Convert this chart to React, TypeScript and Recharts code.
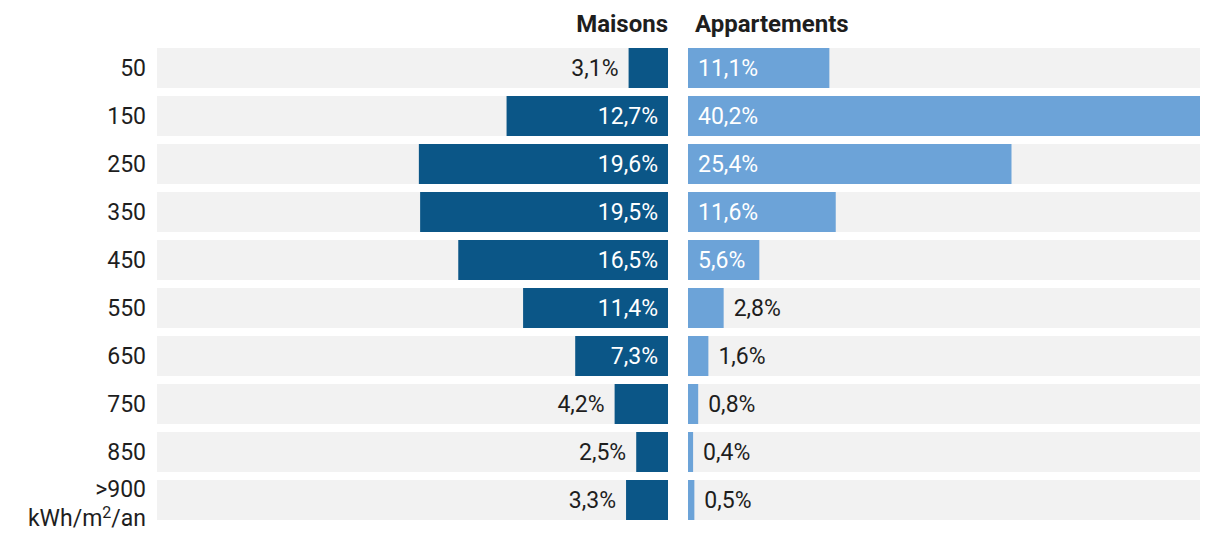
import React from 'react';
import { BarChart, Bar, XAxis, YAxis } from 'recharts';

const categories = ['50', '150', '250', '350', '450', '550', '650', '750', '850', '>900'];
const maisons = [3.1, 12.7, 19.6, 19.5, 16.5, 11.4, 7.3, 4.2, 2.5, 3.3];
const appartements = [11.1, 40.2, 25.4, 11.6, 5.6, 2.8, 1.6, 0.8, 0.4, 0.5];
const UNIT = 'kWh/m';

const rows = categories.map((cat, i) => ({
  cat,
  maisons: maisons[i],
  appartements: appartements[i],
}));

const MAX = Math.max(...maisons, ...appartements);

const DARK = '#0b5687';
const LIGHT = '#6ca3d8';
const TRACK = '#f2f2f2';
const TEXT = '#1e1e1e';
const FONT = 'Roboto, sans-serif';
const FS = 23;

const fmt = (v: number) => `${v.toFixed(1).replace('.', ',')}%`;
// rough Roboto advance widths for the labels
const textWidth = (s: string) =>
  s.split('').reduce((w, c) => w + (c === ',' ? 0.2 : c === '%' ? 0.73 : 0.56), 0) * FS;

const CatTick = (props: any) => {
  const { x, y, payload } = props;
  const v: string = payload.value;
  if (v.startsWith('>')) {
    // two-line label for the last class
    return (
      <g>
        <text x={x} y={y - 3} textAnchor="end" fill={TEXT} fontFamily={FONT} fontSize={FS}>
          {v}
        </text>
        <text x={x} y={y + 26} textAnchor="end" fill={TEXT} fontFamily={FONT} fontSize={FS}>
          {UNIT}
          <tspan dy={-8} fontSize={16}>2</tspan>
          <tspan dy={8}>/an</tspan>
        </text>
      </g>
    );
  }
  return (
    <text x={x} y={y} dy="0.35em" textAnchor="end" fill={TEXT} fontFamily={FONT} fontSize={FS}>
      {v}
    </text>
  );
};

const makeLabel = (side: 'left' | 'right') => (props: any) => {
  const { x, y, width, height, value } = props;
  const left = Math.min(x, x + width);
  const right = Math.max(x, x + width);
  const w = Math.abs(width);
  const s = fmt(value);
  const inside = w > textWidth(s) + 20;
  let tx: number;
  let anchor: 'start' | 'end';
  if (side === 'left') {
    anchor = 'end';
    tx = inside ? right - 10 : left - 10;
  } else {
    anchor = 'start';
    tx = inside ? left + 10 : right + 10;
  }
  return (
    <text
      x={tx}
      y={y + height / 2}
      dy="0.35em"
      textAnchor={anchor}
      fill={inside ? '#ffffff' : TEXT}
      fontFamily={FONT}
      fontSize={FS}
    >
      {s}
    </text>
  );
};

const headerStyle: React.CSSProperties = {
  position: 'absolute',
  top: 8,
  fontFamily: FONT,
  fontWeight: 700,
  fontSize: 24,
  color: TEXT,
  lineHeight: '32px',
};

export default function App() {
  return (
    <div style={{ position: 'absolute', left: 0, top: 0, width: 1220, height: 548, background: '#fff' }}>
      <div style={{ ...headerStyle, right: 1220 - 668, textAlign: 'right' }}>Maisons</div>
      <div style={{ ...headerStyle, left: 695 }}>Appartements</div>

      <div style={{ position: 'absolute', left: 0, top: 0 }}>
        <BarChart
          width={678}
          height={548}
          layout="vertical"
          data={rows}
          margin={{ top: 44, right: 10, bottom: 24, left: 0 }}
        >
          <XAxis type="number" domain={[0, MAX]} reversed hide />
          <YAxis
            type="category"
            dataKey="cat"
            width={157}
            axisLine={false}
            tickLine={false}
            tickSize={0}
            tickMargin={11}
            interval={0}
            tick={<CatTick />}
          />
          <Bar
            dataKey="maisons"
            fill={DARK}
            barSize={40}
            background={{ fill: TRACK }}
            label={makeLabel('left')}
            isAnimationActive={false}
          />
        </BarChart>
      </div>

      <div style={{ position: 'absolute', left: 678, top: 0 }}>
        <BarChart
          width={542}
          height={548}
          layout="vertical"
          data={rows}
          margin={{ top: 44, right: 20, bottom: 24, left: 10 }}
        >
          <XAxis type="number" domain={[0, MAX]} hide />
          <YAxis type="category" dataKey="cat" hide />
          <Bar
            dataKey="appartements"
            fill={LIGHT}
            barSize={40}
            background={{ fill: TRACK }}
            label={makeLabel('right')}
            isAnimationActive={false}
          />
        </BarChart>
      </div>
    </div>
  );
}
